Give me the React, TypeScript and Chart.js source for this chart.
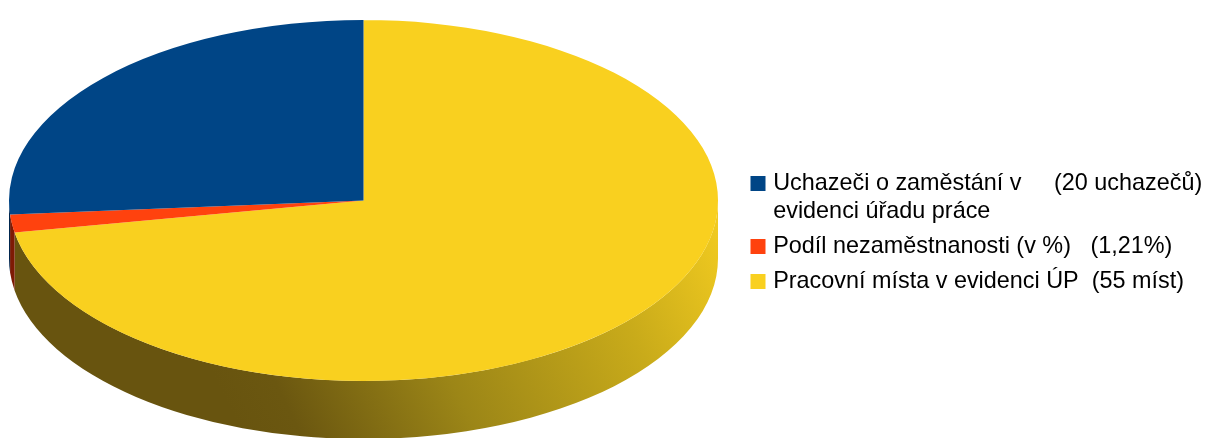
import React, { useEffect, useRef } from "react";
import { Chart, registerables } from "chart.js";

Chart.register(...registerables);

// Drawn clockwise from 12 o'clock; the legend lists them in reverse order.
const categories = [
  ["Pracovní místa v evidenci ÚP  (55 míst)"],
  ["Podíl nezaměstnanosti (v %)   (1,21%)"],
  ["Uchazeči o zaměstání v     (20 uchazečů)", "evidenci úřadu práce"],
];
const values = [55, 1.21, 20];
const sliceColors = ["#f9d01f", "#ff420e", "#004586"];
const wallColors = ["", "#7e1a04", "#00264e"];

const ELLIPSE = { cx: 363.5, cy: 200.5, rx: 354.5, ry: 180.5, depth: 58 };

const tiltPlugin = {
  id: "tilt",
  afterLayout(chart: any) {
    const legend = chart.legend;
    const pad = legend.options.labels.padding;
    const w = legend.right - legend.left;
    legend.left = 754.5 - pad;
    legend.right = legend.left + w;
    legend.top = 171.8 - pad;
    legend.bottom = legend.top + 140;
    legend.adjustHitBoxes();
  },
  beforeDatasetsDraw(chart: any) {
    const { ctx } = chart;
    const arcs = chart.getDatasetMeta(0).data;
    const { cx, cy, rx, ry, depth } = ELLIPSE;

    const grad = ctx.createLinearGradient(250, 450, 722, 215);
    grad.addColorStop(0, "#68540f");
    grad.addColorStop(0.1, "#6b5710");
    grad.addColorStop(0.4, "#9c8617");
    grad.addColorStop(0.75, "#c9ab1a");
    grad.addColorStop(1, "#f3cc20");

    ctx.save();
    arcs.forEach((arc: any, i: number) => {
      const a0 = Math.max(arc.startAngle, 0);
      const a1 = Math.min(arc.endAngle, Math.PI);
      if (a1 <= a0) return;
      ctx.beginPath();
      ctx.ellipse(cx, cy + depth, rx, ry, 0, a0, a1);
      ctx.ellipse(cx, cy, rx, ry, 0, a1, a0, true);
      ctx.closePath();
      ctx.fillStyle = wallColors[i] || grad;
      ctx.fill();
    });
    ctx.restore();

    const r = arcs[0].outerRadius;
    ctx.save();
    ctx.translate(cx, cy);
    ctx.scale(rx / r, ry / r);
    ctx.translate(-arcs[0].x, -arcs[0].y);
  },
  afterDatasetsDraw(chart: any) {
    chart.ctx.restore();
  },
};

export default function App() {
  const ref = useRef<HTMLCanvasElement>(null);
  useEffect(() => {
    const chart = new Chart(ref.current!, {
      type: "pie",
      data: {
        labels: categories as any,
        datasets: [
          {
            data: values,
            backgroundColor: sliceColors,
            borderWidth: 0,
          },
        ],
      },
      options: {
        responsive: false,
        animation: false,
        rotation: 0,
        layout: { padding: { top: 20, bottom: 57, left: 0, right: 0 } },
        plugins: {
          tooltip: { enabled: false },
          legend: {
            position: "right",
            align: "start",
            reverse: true,
            labels: {
              color: "#262626",
              boxWidth: 7,
              boxHeight: 7,
              padding: 7,
              font: { family: "'Liberation Sans', Arial, sans-serif", size: 23.4, lineHeight: 1.197 },
              generateLabels(c: any) {
                return c.data.labels.map((text: any, i: number) => ({
                  text,
                  fillStyle: sliceColors[i],
                  strokeStyle: sliceColors[i],
                  lineWidth: 8,
                  hidden: false,
                  index: i,
                }));
              },
            },
          },
        },
      },
      plugins: [tiltPlugin],
    } as any);
    return () => chart.destroy();
  }, []);
  return (
    <div style={{ position: "fixed", left: 0, top: 0, width: 1209, height: 438, background: "#fff" }}>
      <canvas ref={ref} width={1209} height={438} style={{ display: "block", filter: "blur(0.5px)" }} />
    </div>
  );
}
